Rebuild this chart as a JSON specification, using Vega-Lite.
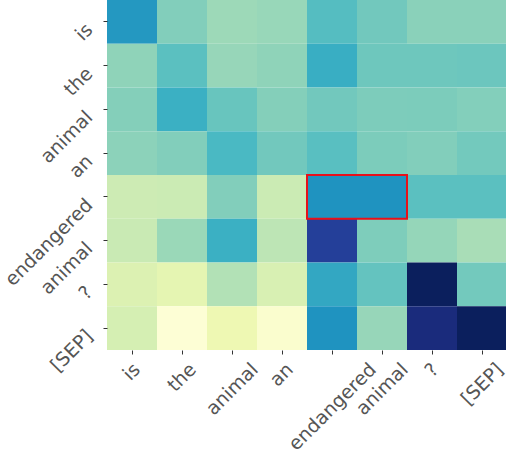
{
  "$schema": "https://vega.github.io/schema/vega-lite/v6.json",
  "width": 400,
  "height": 350,
  "autosize": "none",
  "padding": {"left": 107, "top": 0, "right": 0, "bottom": 108},
  "config": {
    "view": {"stroke": null},
    "axis": {
      "grid": false,
      "domain": false,
      "title": null,
      "tickSize": 4,
      "tickColor": "#333333",
      "labelFont": "DejaVu Sans",
      "labelFontSize": 19,
      "labelColor": "#555555",
      "labelOverlap": false,
      "labelBound": false,
      "labelFlush": false
    }
  },
  "datasets": {
    "cells": [
      {"r": 0, "c": 0, "v": 0.60}, {"r": 0, "c": 1, "v": 0.37}, {"r": 0, "c": 2, "v": 0.323}, {"r": 0, "c": 3, "v": 0.332}, {"r": 0, "c": 4, "v": 0.46}, {"r": 0, "c": 5, "v": 0.401}, {"r": 0, "c": 6, "v": 0.356}, {"r": 0, "c": 7, "v": 0.356},
      {"r": 1, "c": 0, "v": 0.347}, {"r": 1, "c": 1, "v": 0.448}, {"r": 1, "c": 2, "v": 0.333}, {"r": 1, "c": 3, "v": 0.347}, {"r": 1, "c": 4, "v": 0.528}, {"r": 1, "c": 5, "v": 0.409}, {"r": 1, "c": 6, "v": 0.409}, {"r": 1, "c": 7, "v": 0.413},
      {"r": 2, "c": 0, "v": 0.366}, {"r": 2, "c": 1, "v": 0.52}, {"r": 2, "c": 2, "v": 0.421}, {"r": 2, "c": 3, "v": 0.366}, {"r": 2, "c": 4, "v": 0.401}, {"r": 2, "c": 5, "v": 0.379}, {"r": 2, "c": 6, "v": 0.381}, {"r": 2, "c": 7, "v": 0.368},
      {"r": 3, "c": 0, "v": 0.352}, {"r": 3, "c": 1, "v": 0.37}, {"r": 3, "c": 2, "v": 0.482}, {"r": 3, "c": 3, "v": 0.401}, {"r": 3, "c": 4, "v": 0.452}, {"r": 3, "c": 5, "v": 0.381}, {"r": 3, "c": 6, "v": 0.37}, {"r": 3, "c": 7, "v": 0.399},
      {"r": 4, "c": 0, "v": 0.23}, {"r": 4, "c": 1, "v": 0.237}, {"r": 4, "c": 2, "v": 0.37}, {"r": 4, "c": 3, "v": 0.237}, {"r": 4, "c": 4, "v": 0.618}, {"r": 4, "c": 5, "v": 0.618}, {"r": 4, "c": 6, "v": 0.448}, {"r": 4, "c": 7, "v": 0.448},
      {"r": 5, "c": 0, "v": 0.243}, {"r": 5, "c": 1, "v": 0.328}, {"r": 5, "c": 2, "v": 0.52}, {"r": 5, "c": 3, "v": 0.267}, {"r": 5, "c": 4, "v": 0.842}, {"r": 5, "c": 5, "v": 0.377}, {"r": 5, "c": 6, "v": 0.337}, {"r": 5, "c": 7, "v": 0.302},
      {"r": 6, "c": 0, "v": 0.181}, {"r": 6, "c": 1, "v": 0.151}, {"r": 6, "c": 2, "v": 0.286}, {"r": 6, "c": 3, "v": 0.194}, {"r": 6, "c": 4, "v": 0.55}, {"r": 6, "c": 5, "v": 0.43}, {"r": 6, "c": 6, "v": 0.989}, {"r": 6, "c": 7, "v": 0.399},
      {"r": 7, "c": 0, "v": 0.204}, {"r": 7, "c": 1, "v": 0.014}, {"r": 7, "c": 2, "v": 0.12}, {"r": 7, "c": 3, "v": 0.035}, {"r": 7, "c": 4, "v": 0.618}, {"r": 7, "c": 5, "v": 0.333}, {"r": 7, "c": 6, "v": 0.924}, {"r": 7, "c": 7, "v": 0.989}
    ],
    "box": [{"r": 4, "c1": 4, "c2": 5}]
  },
  "layer": [
    {
      "data": {"name": "cells"},
      "mark": {"type": "rect"},
      "encoding": {
        "x": {
          "field": "c", "type": "ordinal",
          "axis": {
            "labelExpr": "['is','the','animal','an','endangered','animal','?','[SEP]'][datum.value]",
            "labelAngle": -45,
            "labelAlign": "right",
            "labelBaseline": "middle",
            "labelPadding": 12,
            "labelOffset": {
              "condition": [
                {"test": "datum.value == 0", "value": 5},
                {"test": "datum.value == 1", "value": 11},
                {"test": "datum.value == 2", "value": 23},
                {"test": "datum.value == 3", "value": 8},
                {"test": "datum.value == 4", "value": 41},
                {"test": "datum.value == 5", "value": 23},
                {"test": "datum.value == 6", "value": 3.5}
              ],
              "value": 18
            }
          }
        },
        "y": {
          "field": "r", "type": "ordinal",
          "axis": {
            "labelExpr": "['is','the','animal','an','endangered','animal','?','[SEP]'][datum.value]",
            "labelAngle": -45,
            "labelAlign": "right",
            "labelBaseline": "middle",
            "labelPadding": 14,
            "labelOffset": 5
          }
        },
        "color": {
          "field": "v", "type": "quantitative",
          "scale": {
            "domain": [0, 0.125, 0.25, 0.375, 0.5, 0.625, 0.75, 0.875, 1],
            "range": ["#ffffd9", "#edf8b1", "#c7e9b4", "#7fcdbb", "#41b6c4", "#1d91c0", "#225ea8", "#253494", "#081d58"],
            "interpolate": "rgb"
          },
          "legend": null
        }
      }
    },
    {
      "data": {"name": "box"},
      "mark": {"type": "rect", "filled": false, "stroke": "#e8101a", "strokeWidth": 2},
      "encoding": {
        "x": {"field": "c1", "type": "ordinal", "bandPosition": 0},
        "x2": {"field": "c2", "bandPosition": 1},
        "y": {"field": "r", "type": "ordinal"}
      }
    }
  ]
}
